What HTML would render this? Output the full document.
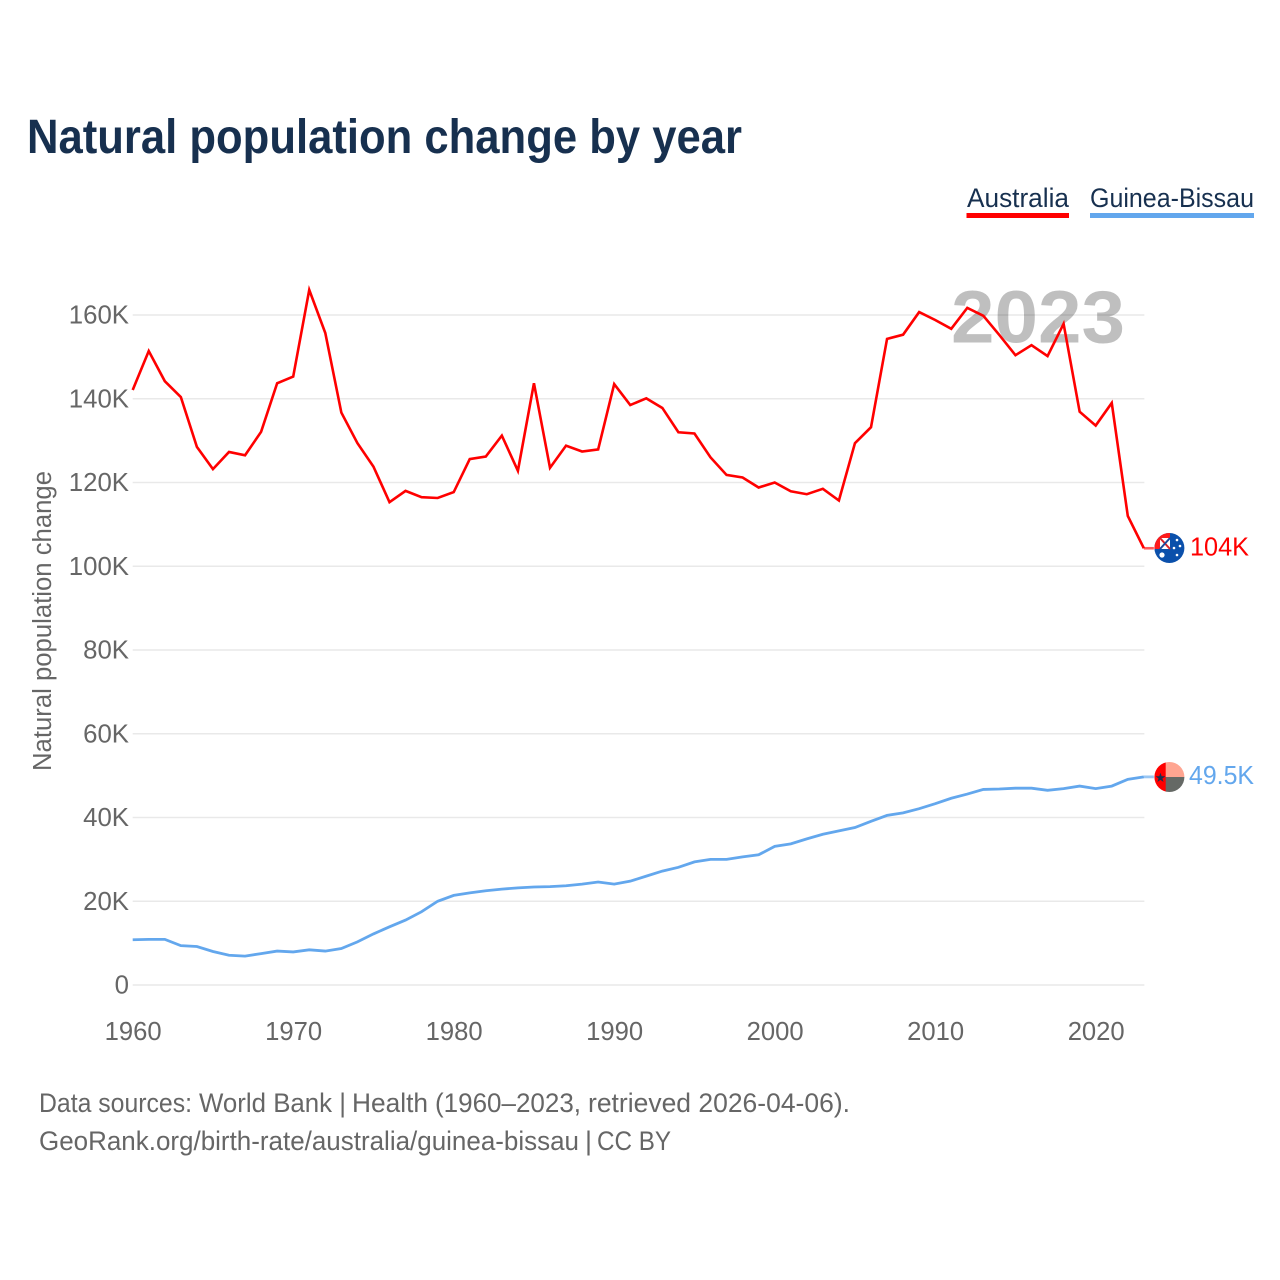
<!DOCTYPE html>
<html lang="en">
<head>
<meta charset="utf-8">
<title>Natural population change by year</title>
<style>
html,body{margin:0;padding:0;background:#fff;}
svg{display:block;font-family:"Liberation Sans",sans-serif;}
</style>
</head>
<body>
<svg id="chart" xmlns="http://www.w3.org/2000/svg" width="1280" height="1280" viewBox="0 0 1280 1280">
  <defs>
    <clipPath id="flag-au-clip"><circle cx="1169.4" cy="548" r="15"/></clipPath>
    <clipPath id="flag-gw-clip"><circle cx="1169.4" cy="777" r="15"/></clipPath>
  </defs>
  <rect x="0" y="0" width="1280" height="1280" fill="#ffffff"/>
  <text x="27" y="153" font-size="48" font-weight="700" fill="#17304f" textLength="715" lengthAdjust="spacingAndGlyphs">Natural population change by year</text>

  <text x="967" y="207" font-size="26.5" fill="#17304f" textLength="102" lengthAdjust="spacingAndGlyphs">Australia</text>
  <rect x="966.5" y="213" width="102.5" height="5" fill="#ff0000"/>
  <text x="1090" y="207" font-size="26.5" fill="#17304f" textLength="164" lengthAdjust="spacingAndGlyphs">Guinea-Bissau</text>
  <rect x="1090" y="213" width="164" height="5" fill="#63a7ed"/>

  <g id="grid"></g>
  <g id="y-ticks"></g>
  <g id="x-ticks"></g>

  <text x="951" y="342.5" font-size="74" font-weight="700" fill="#000000" fill-opacity="0.25" textLength="174" lengthAdjust="spacingAndGlyphs">2023</text>

  <text transform="translate(51,621) rotate(-90)" text-anchor="middle" font-size="25.5" fill="#666666" textLength="300" lengthAdjust="spacingAndGlyphs">Natural population change</text>

  <g id="series"></g>

  <g clip-path="url(#flag-au-clip)">
    <rect x="1154" y="533" width="31" height="30" fill="#0b50ab"/>
    <rect x="1154" y="533" width="16" height="16" fill="#ff1a1a"/>
    <rect x="1160" y="538" width="10" height="11" fill="#ffffff"/>
    <path d="M1160 538 L1170 549" stroke="#d8232a" stroke-width="2"/>
    <path d="M1170 538 L1160 549" stroke="#1b4a9c" stroke-width="2"/>
    <circle cx="1162" cy="555" r="2.6" fill="#ffffff"/>
    <circle cx="1177" cy="540" r="1.3" fill="#ffffff"/>
    <circle cx="1180" cy="546" r="1.3" fill="#ffffff"/>
    <circle cx="1174" cy="548" r="1.3" fill="#ffffff"/>
    <circle cx="1177" cy="555" r="1.3" fill="#ffffff"/>
  </g>
  <g clip-path="url(#flag-gw-clip)">
    <rect x="1154" y="762" width="12" height="30" fill="#ff0000"/>
    <rect x="1165.7" y="762" width="20" height="15" fill="#ffa591"/>
    <rect x="1165.7" y="777" width="20" height="15" fill="#656965"/>
    <text x="1160.5" y="782" font-size="13" text-anchor="middle" fill="#17304f" font-family="'DejaVu Sans',sans-serif">★</text>
  </g>

  <text x="1190" y="555.5" font-size="26" fill="#ff0000" textLength="59" lengthAdjust="spacingAndGlyphs">104K</text>
  <text x="1189" y="784" font-size="26" fill="#63a7ed" textLength="65" lengthAdjust="spacingAndGlyphs">49.5K</text>

  <g font-size="27" fill="#666666">
    <text x="39" y="1112" textLength="153" lengthAdjust="spacingAndGlyphs">Data sources:</text>
    <text x="199" y="1112" textLength="147" lengthAdjust="spacingAndGlyphs">World Bank |</text>
    <text x="352" y="1112" textLength="76" lengthAdjust="spacingAndGlyphs">Health</text>
    <text x="435" y="1112" textLength="146" lengthAdjust="spacingAndGlyphs">(1960–2023,</text>
    <text x="588" y="1112" textLength="262" lengthAdjust="spacingAndGlyphs">retrieved 2026-04-06).</text>
  </g>
  <g font-size="27" fill="#666666">
    <text x="39" y="1150" textLength="540" lengthAdjust="spacingAndGlyphs">GeoRank.org/birth-rate/australia/guinea-bissau</text>
    <text x="585" y="1150">|</text>
    <text x="597" y="1150" textLength="74" lengthAdjust="spacingAndGlyphs">CC BY</text>
  </g>
</svg>
<script>
const years = [1960,1961,1962,1963,1964,1965,1966,1967,1968,1969,1970,1971,1972,1973,1974,1975,1976,1977,1978,1979,1980,1981,1982,1983,1984,1985,1986,1987,1988,1989,1990,1991,1992,1993,1994,1995,1996,1997,1998,1999,2000,2001,2002,2003,2004,2005,2006,2007,2008,2009,2010,2011,2012,2013,2014,2015,2016,2017,2018,2019,2020,2021,2022,2023];
const australia = [142.1,151.4,144.2,140.4,128.5,123.2,127.3,126.5,132.1,143.7,145.3,166,155.7,136.7,129.4,123.8,115.3,118,116.5,116.3,117.7,125.6,126.2,131.2,122.8,143.7,123.5,128.8,127.4,127.9,143.5,138.5,140.1,137.8,132,131.7,126,121.8,121.2,118.8,120,117.9,117.2,118.5,115.7,129.4,133.2,154.3,155.3,160.7,158.8,156.7,161.7,159.8,155.2,150.4,152.8,150.2,157.9,136.9,133.6,139,112,104.3];
const guineaBissau = [10.8,10.9,10.9,9.4,9.2,8,7.1,6.9,7.5,8.1,7.9,8.4,8.1,8.7,10.3,12.2,13.9,15.5,17.5,20,21.4,22,22.5,22.9,23.2,23.4,23.5,23.7,24.1,24.6,24.1,24.8,26,27.2,28.1,29.4,30,30,30.6,31.1,33.1,33.7,34.9,36,36.8,37.6,39.1,40.5,41.1,42.1,43.3,44.6,45.6,46.7,46.8,47,47,46.5,46.9,47.5,46.9,47.5,49.1,49.7];
const yTickValues = [0,20,40,60,80,100,120,140,160];
const yTickLabels = ['0','20K','40K','60K','80K','100K','120K','140K','160K'];
const xTickValues = [1960,1970,1980,1990,2000,2010,2020];

const NS = 'http://www.w3.org/2000/svg';
function xScale(year){ return 132.7 + (year - 1960) * 16.05; }
function yScale(value){ return 985 - value * 4.1875; }
function make(tag, parent, attrs){
  const el = document.createElementNS(NS, tag);
  for (const k in attrs) el.setAttribute(k, attrs[k]);
  parent.appendChild(el);
  return el;
}
const grid = document.getElementById('grid');
const yTicks = document.getElementById('y-ticks');
const xTicks = document.getElementById('x-ticks');
const seriesGroup = document.getElementById('series');

yTickValues.forEach(function(v, i){
  const y = yScale(v);
  const line = make('line', grid, {x1:xScale(1960), x2:xScale(2023) + 0.5, y1:y, y2:y, stroke:'#e9e9e9', 'stroke-width':1.4});
  
  
  const label = make('text', yTicks, {x:129, y:y + 8.5, 'text-anchor':'end', 'font-size':25.8, fill:'#666666'});
  
  
  label.textContent = yTickLabels[i];
});
xTickValues.forEach(function(year){
  const label = make('text', xTicks, {x:xScale(year) + 0.5, y:1040, 'text-anchor':'middle', 'font-size':25.5, fill:'#666666', textLength:57, lengthAdjust:'spacingAndGlyphs'});
  
  
  label.textContent = year;
});
function drawSeries(values, color, width){
  const pts = values.map(function(v, i){ return xScale(years[i]).toFixed(2) + ',' + yScale(v).toFixed(2); }).join(' ');
  const line = make('polyline', seriesGroup, {points:pts, fill:'none', stroke:color, 'stroke-width':width, 'stroke-linejoin':'miter'});
  
  
  const lastY = yScale(values[values.length - 1]);
  const lead = make('line', seriesGroup, {x1:xScale(years[years.length - 1]), x2:xScale(years[years.length - 1]) + 10, y1:lastY, y2:lastY, stroke:color, 'stroke-width':width, 'stroke-opacity':0.65});
  
  
}
drawSeries(australia, '#ff0000', 2.6);
drawSeries(guineaBissau, '#63a7ed', 2.8);
</script>
</body>
</html>
